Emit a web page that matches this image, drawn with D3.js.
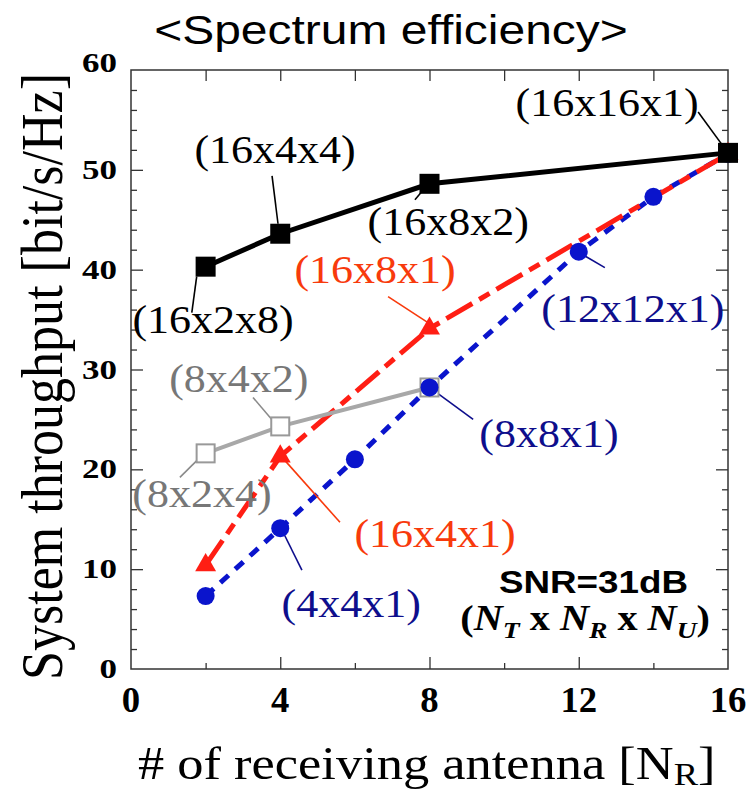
<!DOCTYPE html>
<html>
  <head>
    <meta charset="utf-8">
    <title>Spectrum efficiency</title>
    <script src="https://d3js.org/d3.v7.min.js"></script>
    <style>
      body { margin: 0; background: #fff; }
      svg { display: block; }
      .serif { font-family: "Liberation Serif", "Times New Roman", serif; }
      .sans { font-family: "Liberation Sans", Arial, sans-serif; }
    </style>
  </head>
  <body>
    <svg id="canvas"></svg>
    <script>
      // values
      const xTicksMajor = [0, 4, 8, 12, 16];
      const xTicksMinor = [2, 6, 10, 14];
      const yTicksMajor = [0, 10, 20, 30, 40, 50, 60];
      const yTicksMinor = d3.range(2, 60, 2).filter(function(d) { return d % 10 != 0; });

      // 16 Tx antennas, NR x NU users
      const blackX = [2, 4, 8, 16];
      const blackY = [40.3, 43.6, 48.6, 51.7];
      // 16 Tx, single user
      const redX = [2, 4, 8, 16];
      const redY = [10.4, 21.3, 34.1, 51.6];
      // N x N x 1
      const blueX = [2, 4, 6, 8, 12, 14, 16];
      const blueY = [7.3, 14.1, 21.0, 28.2, 41.8, 47.3, 51.6];
      // 8 Tx
      const grayX = [2, 4, 8];
      const grayY = [21.6, 24.3, 28.2];

      // annotations: label, series, text anchor and leader (data units)
      const noteText = ["(16x16x1)", "(16x4x4)", "(16x8x2)", "(16x2x8)", "(16x8x1)", "(12x12x1)",
                        "(8x4x2)", "(8x8x1)", "(8x2x4)", "(16x4x1)", "(4x4x1)"];
      const noteSeries = ["black", "black", "black", "black", "red", "blue",
                          "gray", "blue", "gray", "red", "blue"];
      const noteAt = [[12.76, 55.4], [3.86, 50.7], [8.5, 43.5], [2.2, 33.7], [6.54, 38.7], [13.45, 34.8],
                      [2.89, 27.7], [11.2, 22.2], [1.9, 16.2], [8.15, 12.2], [5.9, 5.2]];
      const noteLead = [[15.2, 55.8, 16, 51.7], [3.78, 49.4, 3.94, 44.6], [7.61, 47.0, 7.79, 47.8],
                        [1.63, 35.7, 1.76, 39.3], [6.89, 37.3, 8.0, 34.6], [12.7, 40.2, 12.11, 41.5],
                        [3.27, 27.2, 3.91, 24.4], [9.17, 25.0, 8.0, 28.2], [1.31, 19.2, 1.85, 21.2],
                        [5.6, 14.7, 4.05, 21.2], [4.58, 9.9, 4.05, 13.9]];

      const colors = { black: "#000", red: "#ff1e14", blue: "#0a14cc", gray: "#a8a8a8" };
      const textColors = { black: "#000", red: "#f83a0c", blue: "#0e0e8c", gray: "#777" };

      const width = 752, height = 794;
      const plotLeft = 131, plotRight = 728, plotTop = 70, plotBottom = 669;

      const canvas = d3.select("#canvas")
        .attr("width", width)
        .attr("height", height);

      const x = d3.scaleLinear().domain([0, 16]).range([plotLeft, plotRight]);
      const y = d3.scaleLinear().domain([0, 60]).range([plotBottom, plotTop]);

      // text with a horizontal stretch (the original figure is wider than tall)
      function stretchText(parent, px, py, sx, str) {
        return parent.append("g")
            .attr("transform", "translate(" + px + "," + py + ") scale(" + sx + ",1)")
          .append("text")
            .text(str);
      }

      // ticks, all pointing inwards
      function ticks(axis, tx, ty, values, size) {
        canvas.append("g")
            .attr("transform", "translate(" + tx + "," + ty + ")")
            .attr("color", "#333")
            .call(axis.tickValues(values).tickSize(-size).tickFormat(""))
            .call(function(g) { g.select(".domain").remove(); })
            .selectAll("line")
              .attr("stroke-width", 1.3);
      }
      ticks(d3.axisBottom(x), 0, plotBottom, xTicksMinor, 6);
      ticks(d3.axisBottom(x), 0, plotBottom, xTicksMajor.slice(1, -1), 12);
      ticks(d3.axisTop(x), 0, plotTop, xTicksMinor.concat(xTicksMajor.slice(1, -1)), 11);
      ticks(d3.axisLeft(y), plotLeft, 0, yTicksMinor, 6);
      ticks(d3.axisLeft(y), plotLeft, 0, yTicksMajor.slice(1, -1), 12);
      ticks(d3.axisRight(y), plotRight, 0, yTicksMinor, 6);
      ticks(d3.axisRight(y), plotRight, 0, yTicksMajor.slice(1, -1), 12);

      canvas.append("rect")
        .attr("x", plotLeft)
        .attr("y", plotTop)
        .attr("width", plotRight - plotLeft)
        .attr("height", plotBottom - plotTop)
        .attr("fill", "none")
        .attr("stroke", "#333")
        .attr("stroke-width", 1.5);

      // tick labels
      xTicksMajor.forEach(function(d) {
        stretchText(canvas, x(d), 712, 1.05, d)
          .attr("class", "serif")
          .attr("text-anchor", "middle")
          .attr("font-weight", "bold")
          .attr("font-size", 35);
      });
      yTicksMajor.forEach(function(d) {
        stretchText(canvas, 117, y(d) + (d == 60 ? 2 : 9), 1.25, d)
          .attr("class", "serif")
          .attr("text-anchor", "end")
          .attr("font-weight", "bold")
          .attr("font-size", 28);
      });

      // axis titles
      const xTitle = stretchText(canvas, 138, 779, 1.14, "# of receiving antenna [N")
        .attr("class", "serif")
        .attr("font-size", 46);
      xTitle.append("tspan")
        .attr("font-size", 32)
        .attr("dy", 6)
        .text("R");
      xTitle.append("tspan")
        .attr("dy", -6)
        .text("]");

      canvas.append("g")
          .attr("transform", "translate(62," + ((680 + 73) / 2) + ") scale(1.15,1) rotate(-90)")
        .append("text")
          .attr("class", "serif")
          .attr("text-anchor", "middle")
          .attr("font-size", 52)
          .attr("textLength", 607)
          .attr("lengthAdjust", "spacingAndGlyphs")
          .text("System throughput [bit/s/Hz]");

      stretchText(canvas, 391, 44, 1.17, "<Spectrum efficiency>")
        .attr("class", "sans")
        .attr("text-anchor", "middle")
        .attr("font-size", 41);

      // lines
      function series(xs, ys) {
        return xs.map(function(d, i) { return [d, ys[i]]; });
      }
      const line = d3.line()
        .x(function(d) { return x(d[0]); })
        .y(function(d) { return y(d[1]); });

      const plot = canvas.append("g");
      plot.append("path")
        .datum(series(blueX, blueY))
        .attr("d", line)
        .attr("fill", "none")
        .attr("stroke", colors.blue)
        .attr("stroke-width", 5)
        .attr("stroke-dasharray", "11,9");
      plot.append("path")
        .datum(series(redX, redY))
        .attr("d", line)
        .attr("fill", "none")
        .attr("stroke", colors.red)
        .attr("stroke-width", 5)
        .attr("stroke-dasharray", "30,8,12,8");
      plot.append("path")
        .datum(series(grayX, grayY))
        .attr("d", line)
        .attr("fill", "none")
        .attr("stroke", colors.gray)
        .attr("stroke-width", 4);
      plot.append("path")
        .datum(series(blackX, blackY))
        .attr("d", line)
        .attr("fill", "none")
        .attr("stroke", colors.black)
        .attr("stroke-width", 5);

      // leader lines
      noteLead.forEach(function(d, i) {
        plot.append("line")
          .attr("x1", x(d[0]))
          .attr("y1", y(d[1]))
          .attr("x2", x(d[2]))
          .attr("y2", y(d[3]))
          .attr("stroke", noteSeries[i] == "gray" ? "#8a8a8a" : textColors[noteSeries[i]])
          .attr("stroke-width", 1.6);
      });

      // markers
      plot.selectAll(".gsq")
          .data(series(grayX, grayY))
        .enter().append("rect")
          .attr("x", function(d) { return x(d[0]) - 9; })
          .attr("y", function(d) { return y(d[1]) - 9; })
          .attr("width", 18)
          .attr("height", 18)
          .attr("fill", "#fff")
          .attr("stroke", "#999")
          .attr("stroke-width", 2);
      plot.selectAll(".bdot")
          .data(series(blueX, blueY))
        .enter().append("circle")
          .attr("cx", function(d) { return x(d[0]); })
          .attr("cy", function(d) { return y(d[1]); })
          .attr("r", 9)
          .attr("fill", colors.blue);
      plot.selectAll(".rtri")
          .data(series(redX, redY))
        .enter().append("path")
          .attr("d", d3.symbol(d3.symbolTriangle, 190))
          .attr("transform", function(d) { return "translate(" + x(d[0]) + "," + y(d[1]) + ")"; })
          .attr("fill", colors.red);
      plot.selectAll(".ksq")
          .data(series(blackX, blackY))
        .enter().append("rect")
          .attr("x", function(d) { return x(d[0]) - 10; })
          .attr("y", function(d) { return y(d[1]) - 10; })
          .attr("width", 20)
          .attr("height", 20)
          .attr("fill", colors.black);

      // annotation labels
      noteText.forEach(function(t, i) {
        stretchText(canvas, x(noteAt[i][0]), y(noteAt[i][1]), 1.1, t)
          .attr("class", "serif")
          .attr("text-anchor", "middle")
          .attr("font-size", 40)
          .attr("fill", textColors[noteSeries[i]]);
      });

      // condition box text
      stretchText(canvas, 688, 593, 1.15, "SNR=31dB")
        .attr("class", "sans")
        .attr("text-anchor", "end")
        .attr("font-weight", "bold")
        .attr("font-size", 32);

      const cond = stretchText(canvas, 710, 630, 1.15, "")
        .attr("class", "serif")
        .attr("text-anchor", "end")
        .attr("font-weight", "bold")
        .attr("font-size", 35);
      [["(", 0, 35, "normal"], ["N", 0, 35, "italic"], ["T", 8, 24, "italic"],
       [" x ", -8, 35, "normal"], ["N", 0, 35, "italic"], ["R", 8, 24, "italic"],
       [" x ", -8, 35, "normal"], ["N", 0, 35, "italic"], ["U", 8, 24, "italic"],
       [")", -8, 35, "normal"]].forEach(function(p) {
        cond.append("tspan")
          .attr("dy", p[1])
          .attr("font-size", p[2])
          .attr("font-style", p[3])
          .text(p[0]);
      });
    </script>
  </body>
</html>
